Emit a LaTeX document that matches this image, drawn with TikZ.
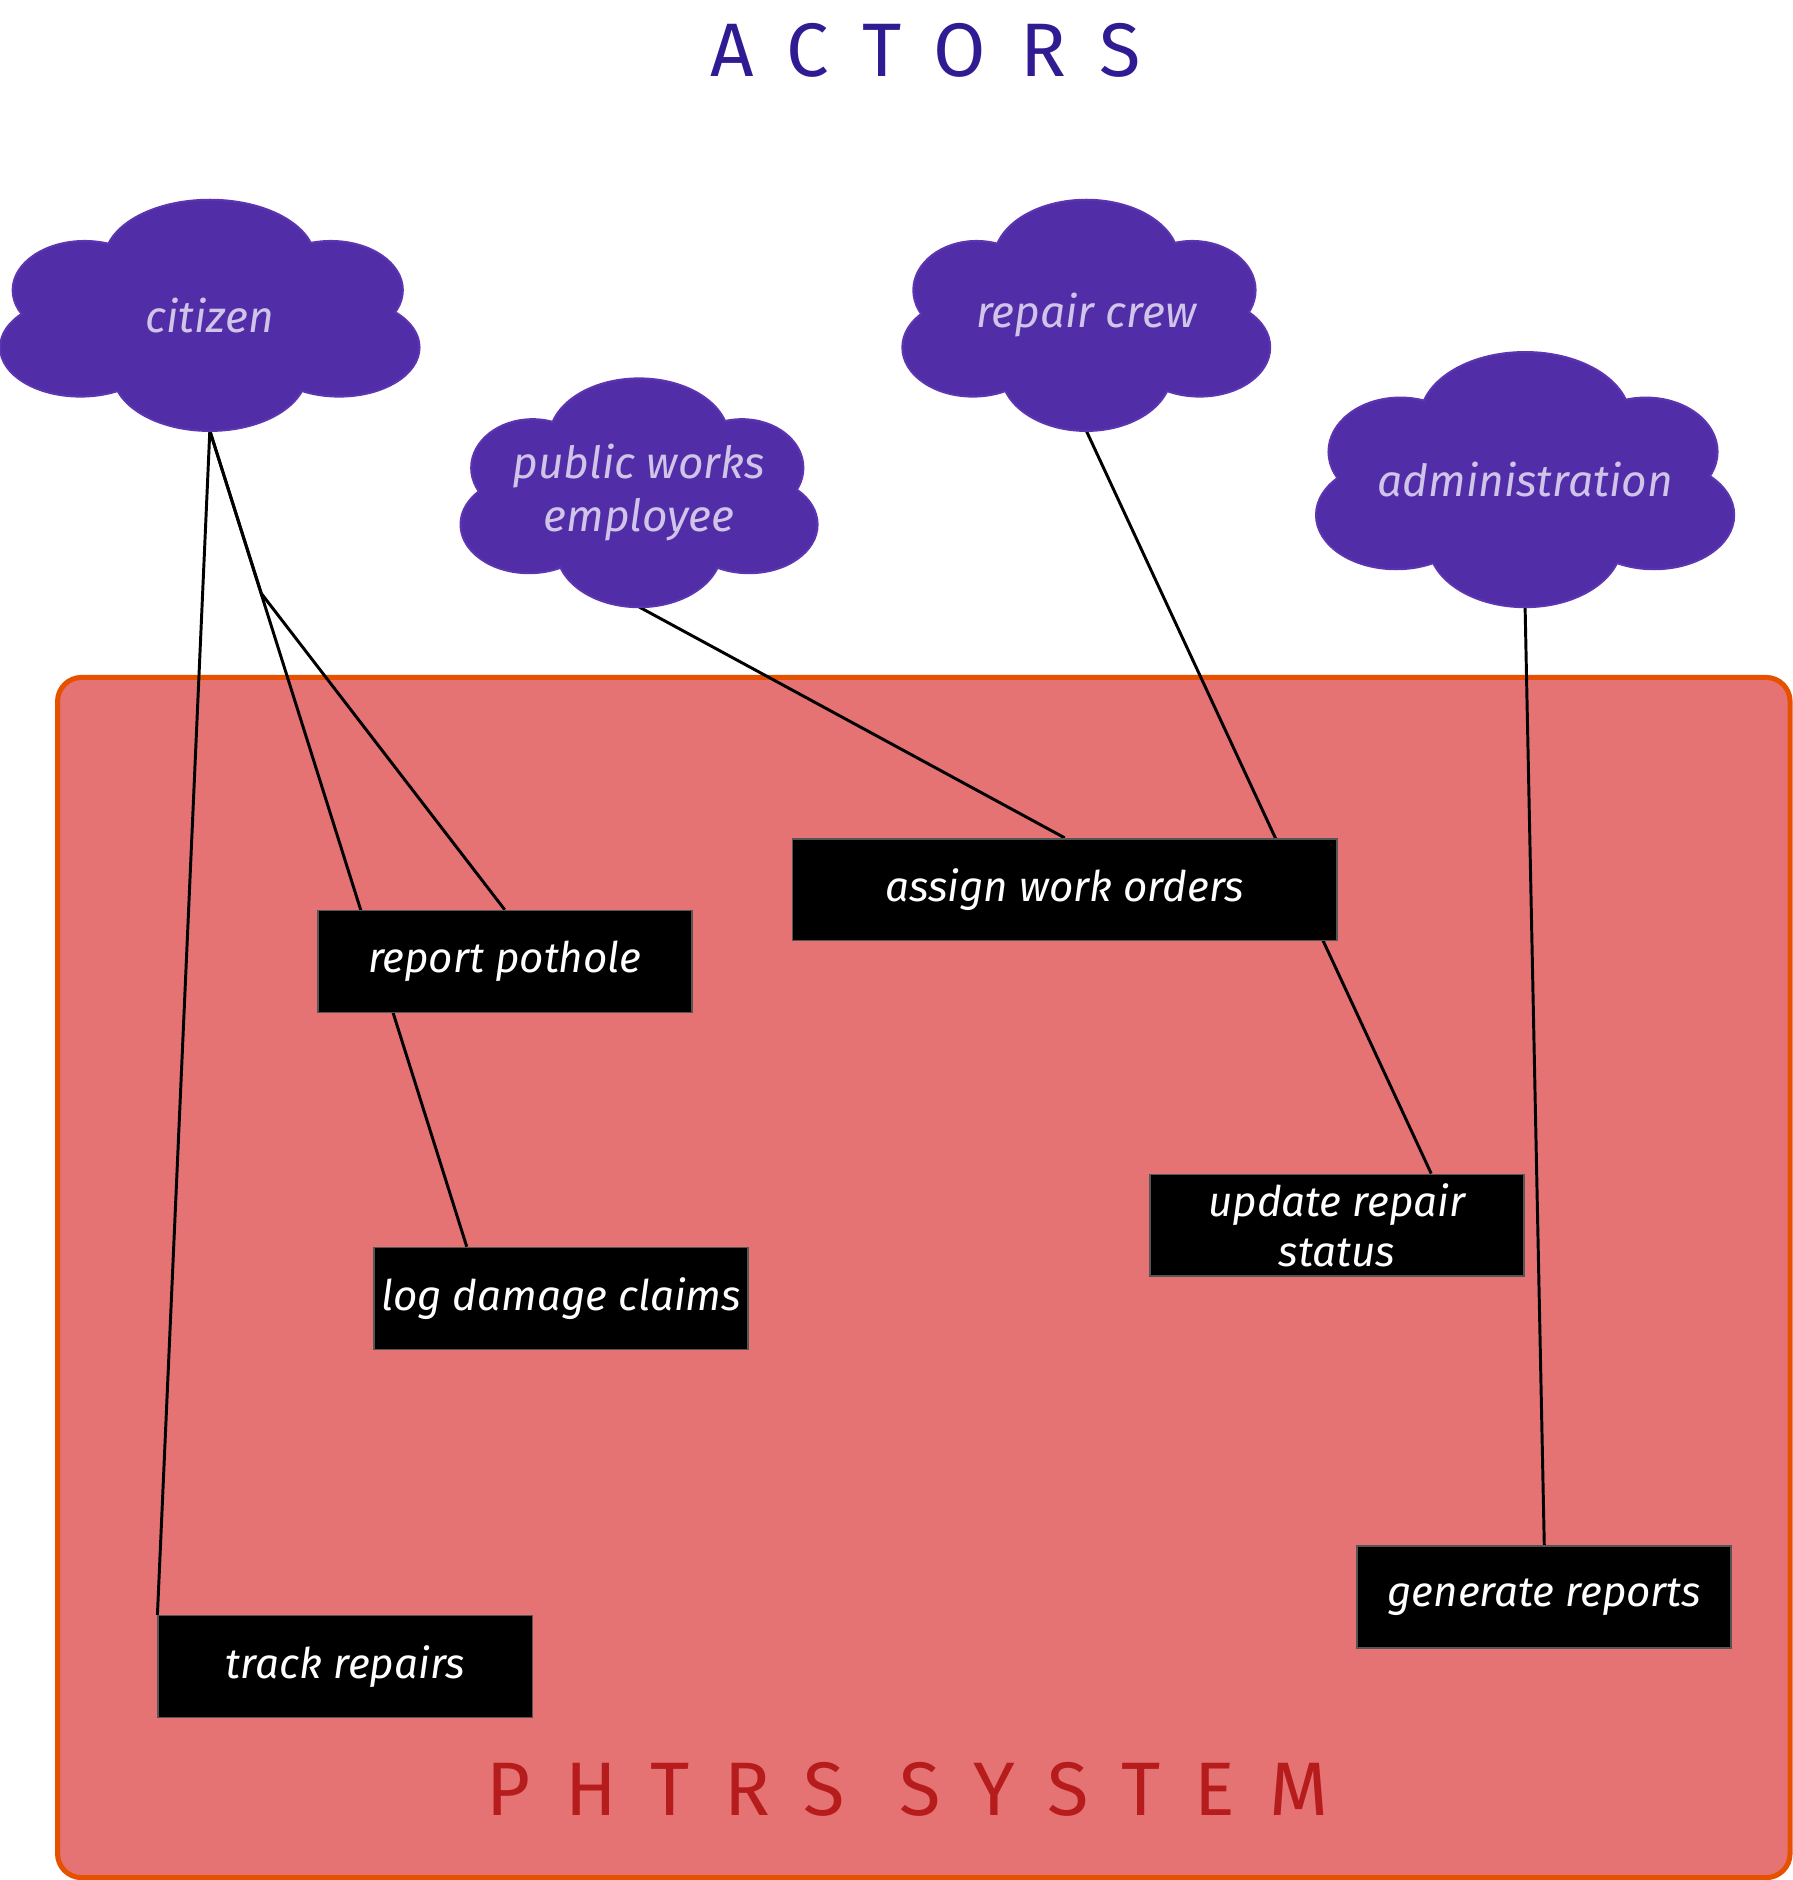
\documentclass[tikz,border=0pt]{standalone}
\usepackage{fontspec}
\setmainfont{Fira Sans}
\usepackage{tikz}
\usetikzlibrary{shapes.geometric}
\usetikzlibrary{positioning}
\definecolor{actorfill}{HTML}{512DA8}
\definecolor{actordraw}{HTML}{5E35B1}
\definecolor{actortext}{HTML}{D1C4E9}
\definecolor{sysfill}{HTML}{E57373}
\definecolor{sysdraw}{HTML}{E65100}
\definecolor{boxdraw}{HTML}{555555}
\definecolor{titleblue}{HTML}{311B92}
\definecolor{titlered}{HTML}{B71C1C}
\pgfdeclarelayer{bg}
\pgfdeclarelayer{wires}
\pgfsetlayers{bg,wires,main}
\tikzstyle{actor}=[shape=ellipse, text=actortext, inner sep=0pt, align=center, font=\itshape\fontsize{10.5}{12.5}\selectfont]
\tikzstyle{usecase}=[shape=rectangle, draw=boxdraw, fill=black, text=white, minimum width=31.2mm, minimum height=8.5mm, inner sep=0pt, align=center, font=\itshape\fontsize{10}{12}\selectfont]
\tikzstyle{wire}=[draw, line width=0.7pt]
\tikzstyle{heading}=[font=\fontsize{18}{20}\selectfont\addfontfeature{LetterSpace=45}]
% cloud outline: #1 centre, #2 half width, #3 half height
\newcommand{\actorcloud}[3]{%
\begin{scope}[shift={#1}, xscale=#2, yscale=#3]
\foreach \lx/\ly/\rx/\ry in {0/-0.48/0.5/0.52, 0/0.5/0.46/0.5, -0.6/-0.22/0.34/0.42, -0.62/0.28/0.38/0.42, 0.58/-0.22/0.34/0.42, 0.62/0.28/0.38/0.42}
  \filldraw[draw=actordraw, fill=actorfill, line width=1pt] (\lx,\ly) ellipse [x radius=\rx, y radius=\ry];
\foreach \lx/\ly/\rx/\ry in {0/-0.48/0.5/0.52, 0/0.5/0.46/0.5, -0.6/-0.22/0.34/0.42, -0.62/0.28/0.38/0.42, 0.58/-0.22/0.34/0.42, 0.62/0.28/0.38/0.42, 0/0/0.7/0.5}
  \fill[actorfill] (\lx,\ly) ellipse [x radius=\rx, y radius=\ry];
\end{scope}}

\begin{document}
\begin{tikzpicture}[x=0.1mm, y=-0.1mm]
\useasboundingbox (0,0) rectangle (1495,1568);

\node[heading, text=titleblue] (actors) at (772,42) {ACTORS};

\actorcloud{(175,263)}{174}{95.5}
\actorcloud{(906,263)}{152.5}{95.5}
\actorcloud{(533,411)}{148}{94.5}
\actorcloud{(1272,400)}{173.5}{105.5}
\node[actor, minimum width=34.8mm, minimum height=19.1mm] (citizen) at (175,263) {citizen};
\node[actor, minimum width=30.5mm, minimum height=19.1mm] (crew) at (906,263) {repair crew};
\node[actor, minimum width=29.6mm, minimum height=18.9mm] (works) at (533,411) {public works\\employee};
\node[actor, minimum width=34.7mm, minimum height=21.1mm] (admin) at (1272,400) {administration};

\begin{pgfonlayer}{bg}
\draw[sysdraw, fill=sysfill, line width=1.2pt, rounded corners=2mm] (48,565) rectangle (1493,1566);
\end{pgfonlayer}

\node[usecase, minimum width=45.4mm] (assign) at (888,742) {assign work orders};
\node[usecase] (report) at (421,802) {report pothole};
\node[usecase] (update) at (1115,1022) {update repair\\status};
\node[usecase] (damage) at (468,1083) {log damage claims};
\node[usecase] (reports) at (1288,1332) {generate reports};
\node[usecase] (track) at (288,1390) {track repairs};

\node[heading, text=titlered] (system) at (757,1492) {PHTRS SYSTEM};

\coordinate (cbend) at (218,495);
\begin{pgfonlayer}{wires}
\draw[wire] (citizen.south) -- (track.north west);
\draw[wire] (citizen.south) -- ([xshift=7.8mm]damage.north west);
\draw[wire] (citizen.south) -- (cbend) -- (report.north);
\draw[wire] (works.south) -- (assign.north);
\draw[wire] (crew.south) -- ([xshift=-7.8mm]update.north east);
\draw[wire] (admin.south) -- (reports.north);
\end{pgfonlayer}
\end{tikzpicture}
\end{document}
